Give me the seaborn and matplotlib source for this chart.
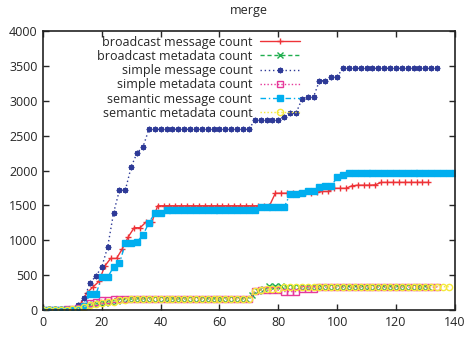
import numpy as np
import pandas as pd
import matplotlib
matplotlib.use("Agg")
import matplotlib.pyplot as plt
import seaborn as sns

title = "merge"
labels = ["broadcast message count", "broadcast metadata count", "simple message count",
          "simple metadata count", "semantic message count", "semantic metadata count"]

# broadcast message count (odd x)
bm_x = list(range(1, 132, 2))
bm_y = ([0, 0, 0, 5, 5, 10, 100, 250, 330, 410, 630, 740, 740, 880, 1050, 1180, 1180, 1260, 1260]
        + [1495] * 20 + [1675] * 7
        + [1690, 1700, 1700, 1745, 1745, 1745, 1780, 1790, 1790, 1790, 1795] + [1830] * 9)

# broadcast metadata count (odd x)
bd_x = list(range(1, 132, 2))
bd_y = ([10, 10, 10, 10, 10, 20, 40, 60, 80, 95, 105, 115, 130, 145, 155]
        + [160] * 20 + [220, 280, 300, 340, 340, 340, 330, 330, 330, 330, 330]
        + [335] * 20)

# simple message count (even x)
sm_x = list(range(0, 135, 2))
sm_y = ([0, 0, 5, 5, 10, 15, 72, 167, 390, 487, 620, 907, 1395, 1720, 1720, 2055, 2255, 2340]
        + [2590] * 18 + [2724] * 5 + [2771, 2820, 2820, 3020, 3058, 3058, 3288, 3288, 3345, 3345]
        + [3465] * 17)

# simple metadata count (even x)
sd_x = list(range(0, 135, 2))
sd_y = ([0, 0, 0, 5, 10, 15, 30, 60, 100, 120, 140, 145, 160]
        + [165] * 23 + [270, 285, 285, 285, 285, 265, 265, 265, 300, 300, 300]
        + [330] * 21)

# semantic message count (even x)
em_x = list(range(0, 141, 2))
em_y = ([0, 0, 0, 0, 0, 5, 20, 60, 229, 229, 469, 469, 621, 669, 956, 956, 980, 1075, 1252, 1386, 1386]
        + [1434] * 16 + [1472] * 5 + [1663, 1663, 1682, 1710, 1710, 1759, 1778, 1778, 1902, 1931]
        + [1960] * 19)

# semantic metadata count (even x)
ed_x = list(range(0, 139, 2))
ed_y = ([0, 0, 0, 0, 5, 10, 20, 50, 70, 90, 100, 110, 120, 140, 150]
        + [160] * 21 + [270, 285, 300, 300, 300, 330, 330, 330, 330, 330, 330]
        + [335] * 23)

xticks = [0, 20, 40, 60, 80, 100, 120, 140]
yticks = [0, 500, 1000, 1500, 2000, 2500, 3000, 3500, 4000]

sns.set_style("ticks")
plt.rcParams["font.family"] = ["Open Sans", "DejaVu Sans"]
plt.rcParams["xtick.direction"] = "in"
plt.rcParams["ytick.direction"] = "in"

fig = plt.figure(figsize=(4.65, 3.37), dpi=100)
ax = fig.add_axes([0.0925, 0.080, 0.8855, 0.828])

series = [
    (bm_x, bm_y, "#ee3338", "+", "-", None, 4.5),
    (bd_x, bd_y, "#1fae4e", "x", (0, (3, 2)), None, 4.0),
    (sm_x, sm_y, "#2e3a97", (8, 2, 0), (0, (1, 2)), None, 4.0),
    (sd_x, sd_y, "#e6399b", "s", (0, (1, 1.5)), "none", 4.0),
    (em_x, em_y, "#00aeef", "s", (0, (4, 2, 1, 2)), None, 4.5),
    (ed_x, ed_y, "#f5e93a", "o", (0, (1, 1.5)), "none", 4.5),
]

for (xs, ys, c, m, ls, mfc, ms), lab in zip(series, labels):
    df = pd.DataFrame({"x": xs, "y": ys})
    kw = dict(marker=m, linestyle=ls, markersize=ms, linewidth=1.0, markeredgewidth=1.0,
              markeredgecolor=c)
    if mfc is not None:
        kw["markerfacecolor"] = mfc
    sns.lineplot(data=df, x="x", y="y", color=c, ax=ax, label=lab, **kw)

ax.set_xlim(0, 140)
ax.set_ylim(0, 4000)
ax.set_xticks(xticks)
ax.set_yticks(yticks)
ax.set_xlabel("")
ax.set_ylabel("")
ax.tick_params(axis="both", which="both", direction="in", top=True, right=True,
               labelsize=9, length=4, width=1, pad=4)
for s in ax.spines.values():
    s.set_linewidth(1.2)
    s.set_color("#222222")
ax.set_title(title, fontsize=9, pad=12)

leg = ax.legend(loc="upper left", bbox_to_anchor=(0.11, 1.015), frameon=False, markerfirst=False,
                fontsize=9, handlelength=3.2, labelspacing=0.1, borderaxespad=0.3,
                handletextpad=0.6)
try:
    leg._legend_handle_box._children[0].align = "right"
except Exception:
    pass

fig.savefig("out.png", dpi=100)
